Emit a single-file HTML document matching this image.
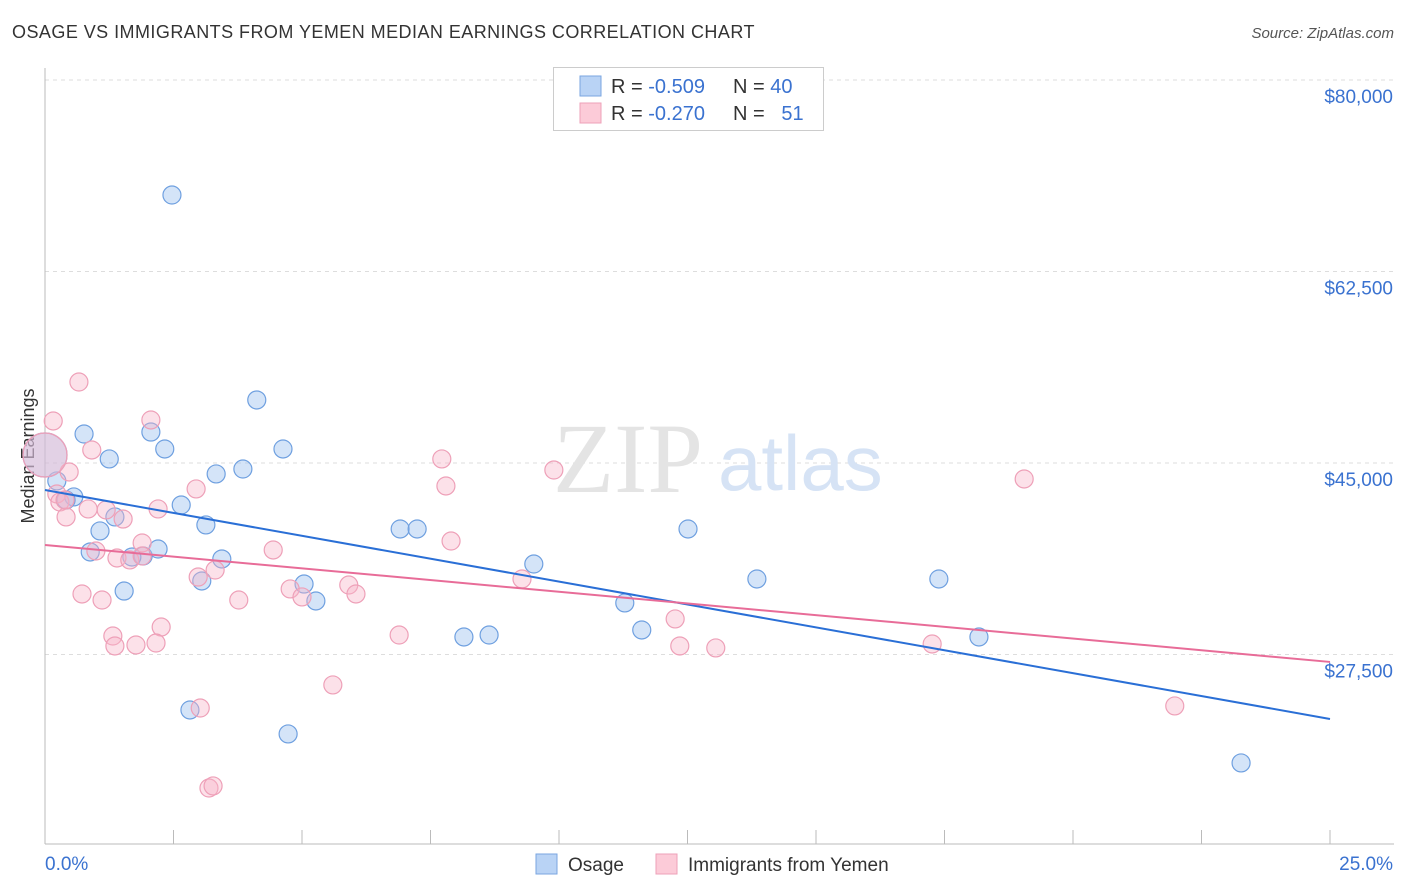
<!DOCTYPE html>
<html><head><meta charset="utf-8">
<style>
body{margin:0;background:#fff;font-family:"Liberation Sans",sans-serif;}
#wrap{position:relative;width:1406px;height:892px;overflow:hidden;}
.title{position:absolute;left:12px;top:22px;font-size:18px;color:#333;letter-spacing:0.45px}
.source{position:absolute;right:12px;top:25px;font-size:15px;color:#555;font-style:italic}
</style></head><body>
<div id="wrap">
<div class="title">OSAGE VS IMMIGRANTS FROM YEMEN MEDIAN EARNINGS CORRELATION CHART</div>
<div class="source">Source: ZipAtlas.com</div>
<svg id="svg" width="1406" height="892" style="position:absolute;left:0;top:0"></svg>
</div>
<script>
const yTicks=[80000,62500,45000,27500];
const yTickLabels=["$80,000","$62,500","$45,000","$27,500"];
const xTickLabels=["0.0%","25.0%"];
const osageX=[2.47,4.12,0.76,2.06,2.33,1.25,4.63,3.33,3.85,0.23,0.56,0.41,2.65,3.13,1.36,1.07,6.91,7.24,12.51,0.88,1.91,2.20,1.69,3.44,9.51,5.04,3.05,1.54,13.85,17.39,5.27,11.28,11.61,8.15,8.64,18.17,2.82,4.73,23.27,0];
const osageY=[69490,50760,47650,47830,46280,45370,46280,44000,44450,43360,41900,41620,41160,39340,40070,38790,38970,38970,38970,36870,36500,37140,36410,36230,35770,33940,34220,33300,34400,34400,32390,32210,29740,29100,29280,29100,22430,20240,17590,45730];
const yemenX=[0.66,2.06,0.16,0.91,0.47,7.72,9.90,7.80,19.05,2.94,0.23,0.29,0.84,1.19,2.20,0.41,1.52,7.90,1.89,4.44,0.99,1.40,1.65,1.89,2.98,3.31,9.28,4.77,5.91,0.72,1.11,3.77,5.00,6.05,2.26,1.32,6.89,12.26,1.36,1.77,2.16,12.35,13.05,17.26,5.60,3.02,21.98,3.19,3.27,0,0.39];
const yemenY=[52400,48930,48840,46190,44180,45370,44360,42900,43540,42630,42170,41440,40800,40710,40800,40070,39880,37870,37690,37050,36960,36320,36140,36500,34580,35220,34400,33490,33850,33030,32480,32480,32760,33030,30010,29190,29280,30750,28280,28370,28550,28280,28100,28460,24720,22610,22800,15300,15490,45730,41620];
const osageTrend=[42530,21610];
const yemenTrend=[37510,26820];

const NS="http://www.w3.org/2000/svg";
const svg=document.getElementById('svg');
const X=v=>45+v/25*1285;
const Y=v=>80+(80000-v)/17500*191.5;
function mk(tag,attrs,parent){const e=document.createElementNS(NS,tag);for(const k in attrs)e.setAttribute(k,attrs[k]);(parent||svg).appendChild(e);return e;}

yTicks.forEach((t,i)=>{
  const g=mk('line',{x1:45,x2:1394,y1:Y(t),y2:Y(t),stroke:'#ddd','stroke-dasharray':'4,4'});
  
  
  const tx=mk('text',{x:1393,y:Y(t)+23,'text-anchor':'end','font-size':19,fill:'#3a72d0','font-family':'Liberation Sans,sans-serif'});
  tx.textContent=yTickLabels[i];
  
  
});
const ax=mk('line',{x1:45,x2:45,y1:68,y2:844,stroke:'#bbb'});


const bx=mk('line',{x1:45,x2:1394,y1:844,y2:844,stroke:'#bbb'});


for(let i=0;i<=10;i++){
  const t=mk('line',{x1:X(i*2.5),x2:X(i*2.5),y1:830,y2:844,stroke:'#bbb'});
  
  
}
const xl0=mk('text',{x:45,y:870,'font-size':19,fill:'#3a72d0'});xl0.textContent=xTickLabels[0];


const xl1=mk('text',{x:1393,y:870,'font-size':19,fill:'#3a72d0','text-anchor':'end'});xl1.textContent=xTickLabels[1];


const yt=mk('text',{x:34,y:456,'font-size':18,fill:'#333','text-anchor':'middle',transform:'rotate(-90 34 456)'});yt.textContent='Median Earnings';


const wm=mk('text',{x:553,y:492,'font-size':100,fill:'#e4e4e4','font-family':'Liberation Serif,serif'});wm.textContent='ZIP';


const wm2=mk('text',{x:718,y:490,'font-size':78,fill:'#d6e3f5'});wm2.textContent='atlas';



function pts(xs,ys,fill,stroke,name){
  xs.forEach((v,i)=>{
    const big=(v===0);
    const c=mk('circle',{cx:X(v),cy:Y(ys[i]),r:big?22:9,fill:fill,stroke:stroke,'stroke-width':1.2});
    
    
  });
}
pts(osageX,osageY,'rgba(160,196,240,0.45)','#6fa0e0','osage-point');
pts(yemenX,yemenY,'rgba(248,180,200,0.4)','#eea0b8','yemen-point');
const l1=mk('line',{x1:X(0),y1:Y(osageTrend[0]),x2:X(25),y2:Y(osageTrend[1]),stroke:'#2a6fd6','stroke-width':2});


const l2=mk('line',{x1:X(0),y1:Y(yemenTrend[0]),x2:X(25),y2:Y(yemenTrend[1]),stroke:'#e86c98','stroke-width':2});



const lg=mk('rect',{x:553.5,y:67.5,width:270,height:63,fill:'#fff',stroke:'#ccc'});


[[0,'#b9d3f5','#7aa6e0','-0.509','40'],[1,'#fccbd8','#eea0b8','-0.270',' 51']].forEach(r=>{
  const y=86+r[0]*27;
  const s=mk('rect',{x:580,y:y-10,width:21,height:20,fill:r[1],stroke:r[2]});
  
  
  const t=mk('text',{x:611,y:y+7,'font-size':20,fill:'#333'});
  t.innerHTML='R = <tspan fill="#3a72d0">'+r[3]+'</tspan>';
  
  
  const n=mk('text',{x:733,y:y+7,'font-size':20,fill:'#333'});
  n.innerHTML='N = <tspan fill="#3a72d0">'+r[4].replace(' ','\u00a0\u00a0')+'</tspan>';
  
  
});
[[536,'#b9d3f5','#7aa6e0','Osage','legend-osage'],[656,'#fccbd8','#eea0b8','Immigrants from Yemen','legend-yemen']].forEach(r=>{
  const s=mk('rect',{x:r[0],y:854,width:21,height:20,fill:r[1],stroke:r[2]});
  
  
  const t=mk('text',{x:r[0]+32,y:871,'font-size':19,fill:'#333'});
  t.textContent=r[3];
  
  
});
</script>
</body></html>
